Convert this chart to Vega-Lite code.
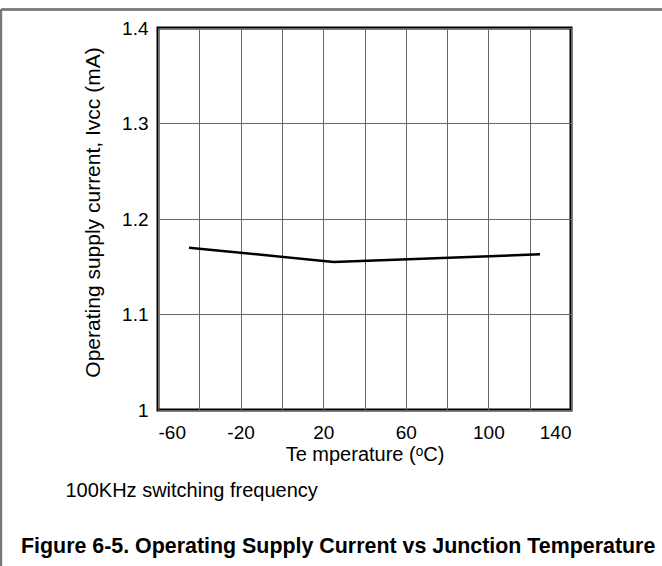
{
  "$schema": "https://vega.github.io/schema/vega-lite/v6.json",
  "width": 413,
  "height": 382,
  "autosize": {"type": "none"},
  "padding": {"left": 158, "top": 28, "right": 91, "bottom": 156},
  "background": "white",
  "config": {
    "font": "Liberation Sans",
    "view": {"stroke": "black", "strokeWidth": 3},
    "axis": {
      "domain": false,
      "ticks": false,
      "grid": true,
      "gridColor": "#666666",
      "gridWidth": 1,
      "gridOpacity": 1,
      "labelFont": "Liberation Sans",
      "labelFontSize": 19,
      "labelColor": "black",
      "titleFont": "Liberation Sans",
      "titleFontSize": 20,
      "titleFontWeight": "normal",
      "titleColor": "black"
    }
  },
  "title": {
    "text": "\u200b\u00a0\u00a0\u00a0\u00a0\u00a0\u00a0\u00a0\u00a0100KHz switching frequency",
    "subtitle": "Figure 6-5. Operating Supply Current vs Junction Temperature",
    "orient": "bottom",
    "anchor": "start",
    "frame": "group",
    "dx": -137,
    "offset": -121,
    "font": "Liberation Sans",
    "fontSize": 20,
    "fontWeight": "normal",
    "color": "black",
    "subtitleFont": "Liberation Sans",
    "subtitleFontSize": 21.4,
    "subtitleFontWeight": "bold",
    "subtitleColor": "black",
    "subtitlePadding": 35
  },
  "data": {
    "values": [
      {"temp": -45, "icc": 1.170},
      {"temp": 25, "icc": 1.155},
      {"temp": 125, "icc": 1.163}
    ]
  },
  "layer": [
    {
      "mark": {"type": "line", "color": "black", "strokeWidth": 2.5},
      "encoding": {
        "x": {
          "field": "temp",
          "type": "quantitative",
          "scale": {"domain": [-60, 140], "nice": false, "zero": false},
          "axis": {
            "values": [-60, -40, -20, 0, 20, 40, 60, 80, 100, 120, 140],
            "labelExpr": "(datum.value + 60) % 40 == 0 ? '' + datum.value : ''",
            "labelPadding": 13,
            "title": "Te mperature (ᵒC)",
            "titlePadding": 2
          }
        },
        "y": {
          "field": "icc",
          "type": "quantitative",
          "scale": {"domain": [1, 1.4], "nice": false, "zero": false},
          "axis": {
            "values": [1, 1.1, 1.2, 1.3, 1.4],
            "labelExpr": "'' + datum.value",
            "labelPadding": 10,
            "title": "Operating supply current, Iᴠᴄᴄ (mA)",
            "titleFontSize": 21,
            "titlePadding": 18,
            "titleY": 184
          }
        }
      }
    },
    {
      "mark": {"type": "rule", "color": "#777777", "strokeWidth": 2},
      "encoding": {
        "x": {"datum": -136, "type": "quantitative"},
        "y": {"datum": 1.4195, "type": "quantitative"},
        "y2": {"datum": 0.8}
      }
    },
    {
      "mark": {"type": "rule", "color": "#777777", "strokeWidth": 2},
      "encoding": {
        "x": {"datum": -136, "type": "quantitative"},
        "x2": {"datum": 190},
        "y": {"datum": 1.4195, "type": "quantitative"}
      }
    }
  ]
}
